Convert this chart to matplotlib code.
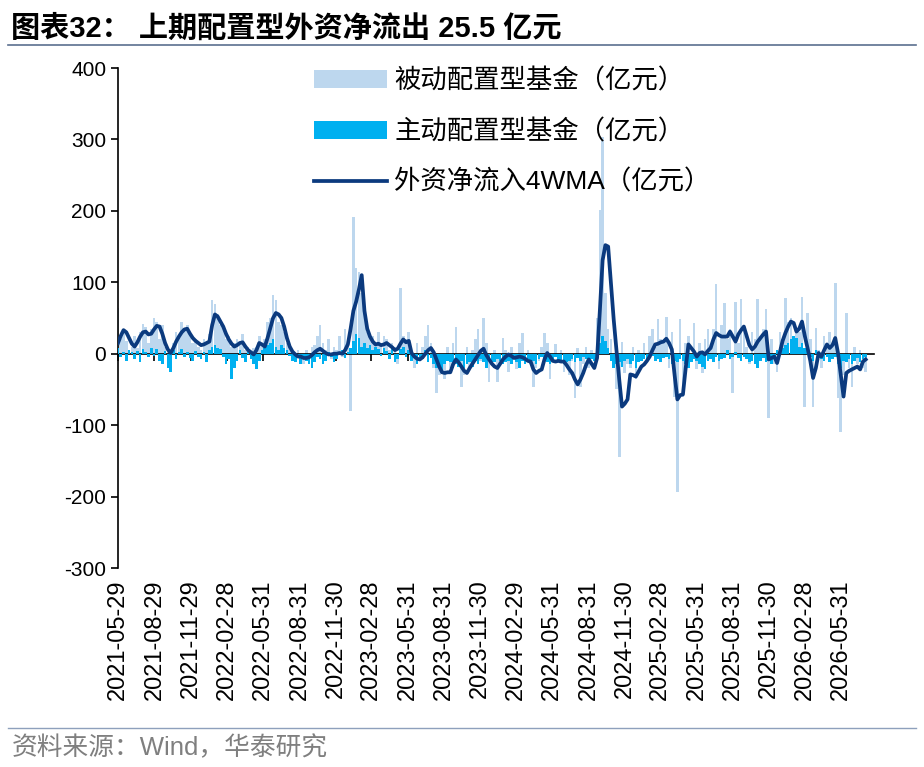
import matplotlib
matplotlib.use("Agg")
import matplotlib.pyplot as plt
from matplotlib.lines import Line2D
import pandas as pd

plt.rcParams['font.family'] = ['Liberation Sans', 'Noto Sans CJK SC']
plt.rcParams['axes.unicode_minus'] = False

# 周度数据, 起点 2021-05-29
START = "2021-05-29"

# 被动配置型基金（亿元）
passive = [
    64, 20, 30, 18, 5, 10, 25, 8, 30, 42,
    38, 15, 35, 50, 45, 20, 40, 10, 5, -5,
    15, 30, 25, 45, 35, 40, 30, 15, 20, 10,
    5, 20, 15, 28, 75, 70, 55, 40, 35, 20,
    25, 10, 15, 20, 12, 28, 5, 10, -5, 8,
    10, 25, 15, 20, 45, 50, 82, 75, 45, 40,
    30, 15, 10, 0, -10, 5, -8, -15, 5, -10,
    10, 12, 25, 40, 15, 5, 20, -8, 10, 5,
    25, -5, 35, 15, -80, 192, 120, 115, 85, 60,
    30, 20, 25, 15, 30, 10, 25, 20, 5, 15,
    10, -15, 92, 25, 20, 30, -10, -20, 15, -5,
    10, 25, 40, 15, -20, -55, -30, -15, -35, 10,
    -20, 15, 37, -15, -46, -30, 10, -20, 5, 20,
    35, -10, 50, 15, -39, -10, 5, -40, -15, 22,
    5, -25, 10, -5, -22, 15, 29, -10, 5, -15,
    -46, -20, -10, 10, 29, 15, -36, -5, 13, -10,
    5, -25, -15, -30, -10, -62, 8, -46, -15, 10,
    -20, 5, -10, 50, 201, 303, 85, 34, 20, -10,
    -50, -144, 17, -27, -15, -20, 10, -35, 5, -10,
    15, -5, 25, 34, 10, 48, 20, 15, 52, -20,
    30, -60, -193, 48, -60, 15, 25, -10, 43, -22,
    15, -27, 20, 34, 10, 35, 97, -22, 40, 71,
    20, 35, -55, 73, 15, 76, 40, 10, -15, 30,
    20, 76, 25, 35, 62, -90, 20, -15, -25, 30,
    20, 78, 45, 50, 22, 35, 30, 80, -74, 57,
    20, -74, 36, 5, -20, 25, 15, 30, 10, 99,
    -62, -109, -30, 57, -20, -46, 10, -15, 5, -20,
    -25,
]

# 主动配置型基金（亿元）
active = [
    8, -5, 3, -10, 5, 2, -8, 4, -12, 6,
    3, -5, 8, -3, 6, -10, -15, 4, -20, -25,
    5, -8, 3, 6, -4, 2, -6, -10, 4, -5,
    -8, 3, -12, 5, 10, 12, 8, 6, -4, -15,
    -8, -36, -20, -10, 5, -6, -12, 3, -8, -15,
    -22, -10, 5, 8, 12, 15, 20, 10, 5, 12,
    8, 5, -3, -10, -12, -5, -15, -8, -10, -14,
    -20, -12, -5, -8, -15, -10, 3, -5, -12, -8,
    2, 5, -6, 3, 8, 18, 28, 22, 10, 15,
    8, 12, 5, 10, 6, -3, 8, 4, -8, 10,
    -12, -8, 6, 10, -5, 5, -10, -5, -15, -10,
    -8, 5, -12, -6, -15, -20, -18, -25, -15, -10,
    -12, -20, -15, -18, -10, -20, -15, -12, -18, -10,
    -15, -8, -12, -20, -10, -15, -12, -8, -10, -15,
    -12, -10, -15, -8, -12, -20, -10, -15, -8, -12,
    -10, -15, -8, -5, -10, -12, -15, -8, -5, -10,
    -10, -15, -12, -10, -8, -12, -6, -10, -5, -8,
    -12, -8, -10, 5, 15, 25, 18, 8, -10, -20,
    -15, -12, -18, -10, -8, -15, -10, -20, -12, -10,
    -8, -12, -5, -3, -10, -8, -12, -6, -5, -8,
    -15, -10, -12, -8, -10, -15, -20, -12, -8, -10,
    -15, -18, -22, -10, -8, -12, -5, -10, -8, -6,
    5, -8, -5, 3, -6, -10, -5, -8, -12, -10,
    -15, -20, -10, -6, -12, -10, -15, -8, 5, 10,
    8, 12, 15, 20, 25, 22, 10, 15, 8, 5,
    -5, -10, 5, 3, -8, -10, -5, -12, -8, -5,
    -15, -20, -10, -12, -8, -15, -10, -6, -12, -8,
    -5,
]

# 外资净流入4WMA（亿元）
flow_4wma = [
    15, 25, 33, 30, 22, 14, 10, 16, 24, 30,
    31, 27, 28, 34, 39, 38, 28, 15, 6, 1,
    8, 17, 24, 30, 34, 35, 28, 22, 18, 15,
    12, 13, 15, 17, 40, 55, 52, 45, 38, 28,
    20, 14, 10, 12, 15, 16, 10, 5, 2, -1,
    5, 15, 13, 10, 22, 36, 50, 57, 55, 50,
    38, 22, 10, 3, -1, -4, -4, -6, -6, -5,
    -2, 2, 5, 7, 4, 1, -1, -1, 0, 0,
    1, 0, 5, 13, 35, 60, 73, 90, 110, 60,
    35, 24, 17, 13, 14, 12, 13, 15, 12, 9,
    5, 7, 14, 20, 16, 18, 1, -4, -7, -8,
    -5, 0, 5, 8, 2, -8, -18, -26, -27, -26,
    -26, -15, -8, -12, -18, -24, -27, -20, -14, -8,
    -2, 4, 7, -2, -8, -14, -18, -20, -14, -8,
    -4, -1, -3, -6, -5, -4, -5, -7, -10, -11,
    -22, -27, -24, -22, -8, 1, -4, -10, -11, -10,
    -11, -11, -16, -22, -27, -36, -43, -36, -27, -16,
    -8, -14, -20, -6, 60, 131, 152, 150, 100, 48,
    5, -36, -74, -70, -64, -29, -30, -32, -25, -18,
    -15, -10, -4, 5, 13, 14, 16, 17, 21, 15,
    6, -30, -64, -58, -57, -20, 13, 8, 3, -4,
    1, 2, -1, 4, 8, 20, 29, 26, 24, 24,
    24, 31, 24, 17, 27, 33, 38, 25, 12, 6,
    10, 17, 22, 27, 31, -8, -6, -4, -13, 2,
    18, 29, 38, 45, 43, 31, 35, 45, 25, 8,
    -10, -34, -20, 1, -4, 5, 13, 8, 12, 22,
    1, -30, -60, -27, -24, -22, -20, -18, -22, -11,
    -8,
]

tick_labels = [
    "2021-05-29", "2021-08-29", "2021-11-29", "2022-02-28", "2022-05-31",
    "2022-08-31", "2022-11-30", "2023-02-28", "2023-05-31", "2023-08-31",
    "2023-11-30", "2024-02-29", "2024-05-31", "2024-08-31", "2024-11-30",
    "2025-02-28", "2025-05-31", "2025-08-31", "2025-11-30", "2026-02-28",
    "2026-05-31",
]

dates = pd.date_range(START, periods=len(passive), freq="7D")
tick_pos = pd.to_datetime(tick_labels)

fig = plt.figure(figsize=(9.24, 7.67), dpi=100)
ax = fig.add_axes([118 / 924, 1 - 568 / 767, 756 / 924, 500 / 767])

b1 = ax.bar(dates, passive, width=6.5, color="#BDD7EE", label="被动配置型基金（亿元）", zorder=2)
b2 = ax.bar(dates, active, width=6.5, color="#00B0F0", label="主动配置型基金（亿元）", zorder=3)
l1, = ax.plot(dates, flow_4wma, color="#0B3A7E", lw=2.7, label="外资净流入4WMA（亿元）", zorder=4)

ax.set_xlim(pd.Timestamp(START), pd.Timestamp("2026-08-22"))
ax.set_ylim(-300, 400)
ax.set_yticks(range(-300, 401, 100))
ax.tick_params(axis="y", labelsize=15, direction="out", length=5, width=1.2)

# x 轴线放在 0 处, 标签放在底部
ax.spines["bottom"].set_position(("data", 0))
ax.spines["top"].set_visible(False)
ax.spines["right"].set_visible(False)
ax.spines["left"].set_linewidth(1.2)
ax.spines["bottom"].set_linewidth(1.2)
ax.set_xticks(tick_pos)
ax.tick_params(axis="x", labelbottom=False, direction="out", length=5, width=1.2)

ax2 = ax.twiny()
ax2.set_xlim(ax.get_xlim())
ax2.xaxis.set_ticks_position("bottom")
ax2.set_xticks(tick_pos)
ax2.set_xticklabels(tick_labels, rotation=90, fontsize=17)
ax2.tick_params(axis="x", length=0, pad=8)
for s in ax2.spines.values():
    s.set_visible(False)

ax.legend([b1, b2, l1], [b1.get_label(), b2.get_label(), l1.get_label()],
          loc="upper left", bbox_to_anchor=(0.228, 1.047), frameon=False,
          fontsize=19, handlelength=2.77, handleheight=0.68,
          labelspacing=0.97, handletextpad=0.27)

fig.text(0.012, 0.963, "图表32： 上期配置型外资净流出 25.5 亿元", fontsize=21,
         fontweight="bold", va="center", ha="left")
fig.add_artist(Line2D([8 / 924, 916 / 924], [1 - 45 / 767, 1 - 45 / 767],
                      color="#5B6F8F", lw=1.2))
fig.add_artist(Line2D([8 / 924, 916 / 924], [1 - 728 / 767, 1 - 728 / 767],
                      color="#8EA0BC", lw=1.0))
fig.text(0.013, 0.025, "资料来源：Wind，华泰研究", fontsize=18.5, color="#7F7F7F",
         va="center", ha="left")

fig.savefig("out.png", dpi=100)
